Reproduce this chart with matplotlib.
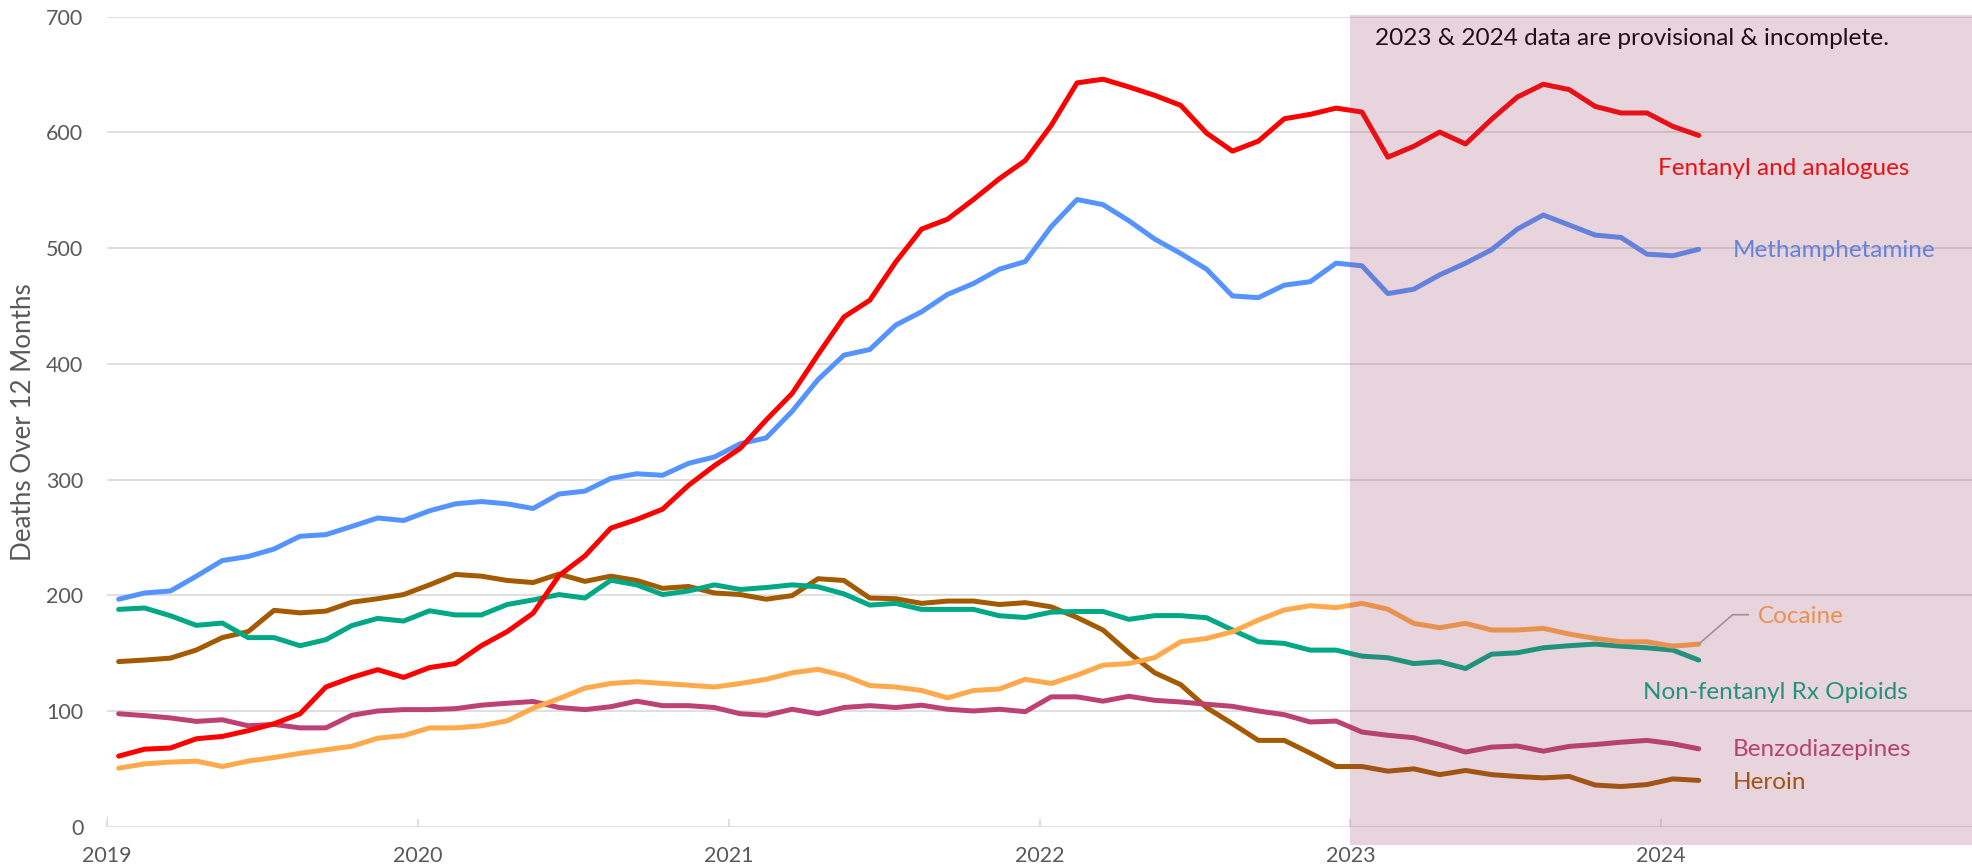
import numpy as np
import matplotlib
matplotlib.use("Agg")
import matplotlib.pyplot as plt
from matplotlib.patches import Rectangle

plt.rcParams['font.family'] = ['Lato', 'DejaVu Sans']

# ---- data (12-month rolling deaths, monthly Jan 2019 .. Feb 2024) ----
fentanyl = [61, 67, 68, 76, 78, 83, 89, 97.5, 120.7, 129, 135.7, 129, 137.5, 141, 156.4, 168.6,
            184.5, 217, 234, 258, 265.5, 274.4, 295, 312, 327, 351.5, 374.4, 408, 440.5, 455,
            488, 516.5, 525, 542, 560, 575.7, 606, 642.8, 646, 639.3, 632, 623.4, 599.4, 583.8,
            592.5, 611.8, 615.6, 621, 617.6, 578.6, 588, 600.3, 590, 611.3, 630.6, 641.6, 637,
            622.5, 616.8, 616.8, 605.2, 597.4]
meth = [196.6, 202, 203.7, 216.5, 230, 233.5, 240, 251, 252.4, 259.5, 266.8, 264.6, 273, 279, 281,
        279, 275, 287.5, 290, 301, 305, 303.7, 314, 319.5, 331, 336, 359, 386.4, 407.5, 412.4,
        433.5, 445, 460, 469.4, 481.8, 488.4, 518.5, 542, 537.6, 523.7, 507.8, 495.4, 481.8,
        458.7, 457.2, 468, 471, 487, 484.7, 460.7, 464.5, 476.9, 487, 498.6, 516.5, 528.6, 520,
        511.3, 509.2, 494.8, 493.4, 499]
heroin = [142.7, 144, 145.7, 152.7, 163.4, 168.6, 187, 184.8, 186.3, 194, 197, 200.6, 209, 218,
          216.5, 212.8, 211, 218.3, 212, 216.5, 212.8, 206, 207.6, 202, 200.6, 196.6, 199.7, 214.3,
          212.8, 197.6, 197, 193, 195, 195, 192, 193.6, 190, 180.8, 170, 150.3, 133, 122.8, 102.9,
          89, 74.6, 74.6, 63.6, 52, 52, 48, 50, 45, 48.6, 45, 43.4, 42.2, 43.4, 36, 34.7, 36.4,
          41.3, 40]
nonfent = [187.8, 189, 182.3, 174, 176, 163.4, 163.4, 156.4, 161.6, 173.8, 180, 177.7, 186.6, 183,
           183, 192, 196, 200.6, 197.6, 213, 209, 200.6, 203.7, 209, 205, 206.7, 209, 207.3, 201.2,
           191.5, 193, 187.8, 187.8, 187.8, 182.3, 180.8, 185.4, 186, 186, 179.2, 182.4, 182.4,
           180.6, 170, 159.8, 158.4, 152.6, 152.6, 147.4, 146, 141, 142.5, 136.7, 149.1, 150.3,
           154.6, 156.4, 157.8, 156, 154.6, 152.6, 144]
benzo = [97.6, 96, 94, 91, 92.4, 87.2, 88.4, 85.4, 85.4, 96.3, 100, 101.2, 101.2, 102, 105, 106.7,
         108.2, 103, 101.2, 103.7, 108.5, 104.6, 104.6, 103, 97.6, 96.3, 101.5, 97.6, 103, 104.6,
         103, 105, 101.5, 100, 101.5, 99.4, 112.2, 112.2, 108.5, 112.7, 109.2, 107.8, 105.8, 104,
         100, 96.8, 90.5, 91.3, 81.8, 79, 76.9, 71, 64.5, 68.8, 69.7, 65.3, 69.4, 71, 73, 74.6,
         71.7, 67.3]
cocaine = [50.6, 54.3, 55.8, 56.7, 52, 56.7, 59.8, 63.4, 66.5, 69.5, 76.5, 78.7, 85.4, 85.4, 87.2,
           91.5, 102.4, 110.7, 119.8, 123.8, 125.3, 123.8, 122.3, 120.7, 123.8, 127.4, 133, 136,
           130.5, 122, 120.7, 117.7, 111.3, 117.7, 119, 127.4, 123.8, 131, 139.6, 141, 146.2,
           159.8, 162.7, 168.5, 178.6, 187.3, 191, 189.3, 193, 187.9, 175.7, 172, 175.7, 170, 170,
           171.4, 166.5, 162.7, 159.8, 159.8, 156, 157.8]

series_names = ["Heroin", "Benzodiazepines", "Non-fentanyl Rx Opioids", "Cocaine",
                "Methamphetamine", "Fentanyl and analogues"]
series_values = [heroin, benzo, nonfent, cocaine, meth, fentanyl]
series_colors = ["#A35A00", "#BE4173", "#00A886", "#FFA94D", "#5594FF", "#FF0000"]
year_ticks = [2019, 2020, 2021, 2022, 2023, 2024]
y_ticks = [0, 100, 200, 300, 400, 500, 600, 700]
note_text = "2023 & 2024 data are provisional & incomplete."
y_label = "Deaths Over 12 Months"

# label anchor positions (decimal year, value)
label_pos = {
    "Fentanyl and analogues": (2023.99, 569),
    "Methamphetamine": (2024.23, 498),
    "Cocaine": (2024.31, 182),
    "Non-fentanyl Rx Opioids": (2023.94, 115.6),
    "Benzodiazepines": (2024.23, 66.5),
    "Heroin": (2024.23, 38.2),
}

n = len(fentanyl)
x = 2019 + (np.arange(n) + 0.45) / 12.0

fig = plt.figure(figsize=(19.72, 8.68), dpi=100)
ax = fig.add_axes([107 / 1972, 1 - 826.7 / 868, 1 - 107 / 1972, (826.7 - 16.7) / 868])

grid_c = "#D9D9D9"
for yt in y_ticks:
    ax.axhline(yt, color=grid_c, lw=1.2, zorder=1)

for name, vals, col in zip(series_names, series_values, series_colors):
    ax.plot(x, vals, color=col, lw=3.6, solid_capstyle='round', solid_joinstyle='round', zorder=3)

for name, col in zip(series_names, series_colors):
    lx, ly = label_pos[name]
    ax.text(lx, ly, name, color=col, fontsize=17.5, ha='left', va='center', zorder=4)

# cocaine leader line
ax.plot([x[-1], 2024.23, 2024.28], [cocaine[-1], 183.2, 183.2], color="#A6A6A6", lw=1.2, zorder=4)

ax.text(2023.08, 681, note_text, color="black", fontsize=17.6, ha='left', va='center', zorder=4)

# provisional shading overlay
ax.add_patch(Rectangle((2023, -16), 2.2, 717.5, facecolor=(154 / 255, 70 / 255, 101 / 255),
                       alpha=0.227, edgecolor='none', zorder=10, clip_on=False))

ax.set_xlim(2019, 2025)
ax.set_ylim(0, 700)
for s in ax.spines.values():
    s.set_visible(False)
ax.set_xticks(year_ticks)
ax.set_xticklabels([str(y) for y in year_ticks])
ax.set_yticks(y_ticks)
ax.set_yticklabels([str(y) for y in y_ticks])
ax.tick_params(axis='x', direction='in', length=6, width=1.2, color=grid_c, pad=14,
               labelsize=15.5, labelcolor="#595959")
ax.tick_params(axis='y', length=0, pad=17, labelsize=15.5, labelcolor="#595959")
ax.axvline(2019, ymin=0, ymax=10 / 810, color=grid_c, lw=1.2)
ax.set_ylabel(y_label, fontsize=18.7, color="#595959")
ax.yaxis.set_label_coords(-0.038, 0.5)

fig.savefig("out.png", dpi=100)
